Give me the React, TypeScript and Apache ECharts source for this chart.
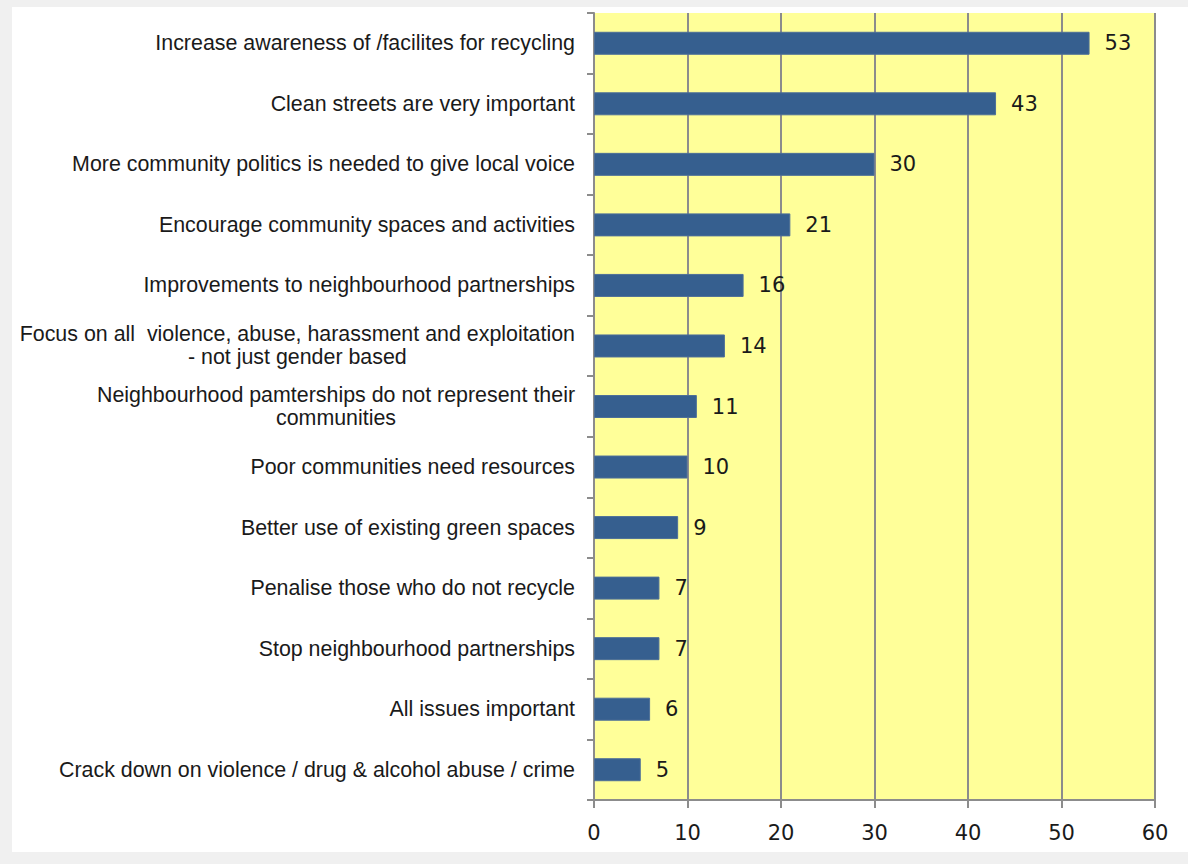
import React, { useEffect, useRef } from "react";
import * as echarts from "echarts";

const categories: string[] = [
  "Increase awareness of /facilites for recycling",
  "Clean streets are very important",
  "More community politics is needed to give local voice",
  "Encourage community spaces and activities",
  "Improvements to neighbourhood partnerships",
  "Focus on all  violence, abuse, harassment and exploitation\n- not just gender based",
  "Neighbourhood pamterships do not represent their\ncommunities",
  "Poor communities need resources",
  "Better use of existing green spaces",
  "Penalise those who do not recycle",
  "Stop neighbourhood partnerships",
  "All issues important",
  "Crack down on violence / drug & alcohol abuse / crime",
];
const values: number[] = [53, 43, 30, 21, 16, 14, 11, 10, 9, 7, 7, 6, 5];
const axisMin = 0;
const axisMax = 60;
const axisStep = 10;

export default function App() {
  const ref = useRef<HTMLDivElement>(null);
  useEffect(() => {
    if (!ref.current) return;
    const chart = echarts.init(ref.current, undefined, { renderer: "svg" });
    const labelFont = {
      color: "#1a1a1a",
      fontFamily: "Liberation Sans",
      fontSize: 21.4,
      lineHeight: 23,
    };
    chart.setOption({
      animation: false,
      backgroundColor: "#ffffff",
      grid: { left: 582, right: 33, top: 6, bottom: 52, containLabel: false, show: true, backgroundColor: "#FFFF99", borderWidth: 0 },
      xAxis: {
        type: "value",
        min: axisMin,
        max: axisMax,
        interval: axisStep,
        axisLine: { show: true, lineStyle: { color: "#8c8c8c", width: 2 } },
        axisTick: { show: true, length: 8, lineStyle: { color: "#8c8c8c", width: 2 } },
        splitLine: { show: true, lineStyle: { color: "#8c8c8c", width: 2 } },
        axisLabel: { color: "#1a1a1a", fontFamily: "DejaVu Sans", fontSize: 21, margin: 22 },
      },
      yAxis: {
        type: "category",
        inverse: true,
        data: categories,
        axisLine: { show: true, lineStyle: { color: "#8c8c8c", width: 2 } },
        axisTick: { show: true, length: 7, lineStyle: { color: "#8c8c8c", width: 2 } },
        axisLabel: {
          ...labelFont,
          margin: 19,
          align: "right",
          interval: 0,
          formatter: (v: string) => v.split("\n").map((l) => `{c|${l}}`).join("\n"),
          rich: { c: { ...labelFont, align: "center" } },
        },
      },
      series: [
        {
          type: "bar",
          data: values,
          barWidth: 23,
          itemStyle: { color: "#365F8F", borderColor: "#4D6F98", borderWidth: 1 },
          label: {
            show: true,
            position: "right",
            distance: 15,
            color: "#1a1a1a",
            fontFamily: "DejaVu Sans",
            fontSize: 21,
          },
        },
      ],
    });
    return () => chart.dispose();
  }, []);
  return (
    <div style={{ position: "absolute", left: 0, top: 0, width: 1188, height: 864, background: "#f0f0f0" }}>
      <div ref={ref} style={{ position: "absolute", left: 12, top: 7, width: 1176, height: 845 }} />
    </div>
  );
}
